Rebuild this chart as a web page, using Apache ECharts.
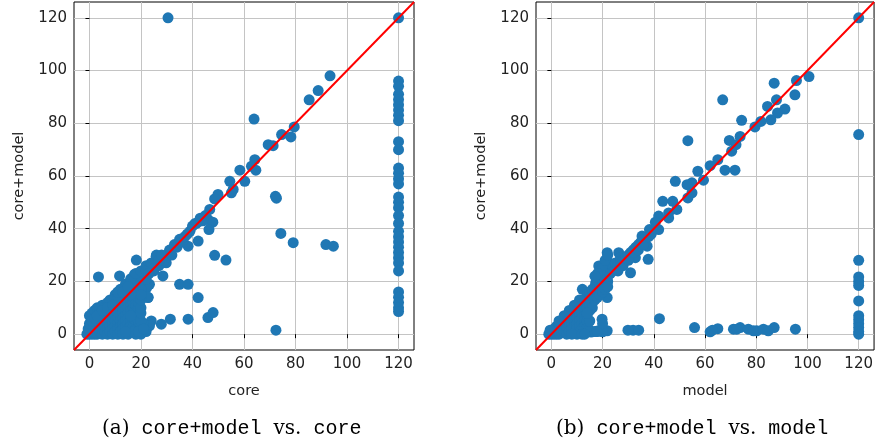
<!DOCTYPE html>
<html>
<head>
<meta charset="utf-8">
<script src="https://cdn.jsdelivr.net/npm/echarts@6/dist/echarts.min.js"></script>
<style>
  html, body { margin: 0; padding: 0; background: #fff; }
  #main { width: 876px; height: 446px; }
</style>
</head>
<body>
<div id="main"></div>
<script>
// panel (a): x = core, y = core+model
var coreVsCore = [
  [30.5,120],[120,120],[93.4,98],[88.8,92.4],[85.3,88.9],[63.9,81.6],[79.5,78.6],[78.2,74.8],[74.6,75.7],
  [71.3,71.5],[69.4,71.9],[64.2,66.2],[62.9,63.7],[64.6,62.2],[58.4,62.2],[60.3,58],[54.5,58],[55.8,54.9],
  [55.1,53.6],[49.9,53],[48.6,51.3],[46.7,47.3],[46,43.5],[47.9,42.5],[46.4,39.7],[42.8,42.9],[41.5,42],
  [42.2,35.3],[38.3,33.4],[35.7,35.9],[33.7,33.4],[31.1,31.9],[28.5,29.6],[25.9,29.6],[29.8,27.1],[28.5,22.1],
  [18.2,28.1],[11.7,22.1],[3.5,21.7],[17.5,22.7],[23.3,18.9],[35,18.9],[38.3,18.9],[42.2,13.9],[22.7,13.9],
  [48.6,29.9],[53,28.1],[72.2,52.3],[72.6,51.6],[74.3,38.2],[79.1,34.7],[91.8,34],[94.7,33.4],[72.4,1.5],
  [31.4,5.7],[38.3,5.7],[46,6.3],[48,8.2],[27.9,3.8],[24,5],[23.3,3.2],[22.2,17.6],[22.8,14],
  [20,20],[21,22],[22,21],[23,23],[24,25],[25,24],[26,27],[27,26],[28,29],[29,28],[30,30],[31,31],[32,30],
  [33,34],[34,33],[35,36],[36,35],[37,37],[38,38],[39,39],[40,41],[41,42],[43,44],[44,43],[45,45],
  [0,0],[0.5,1],[1,2],[1,0],[2,3],[2,1],[2,0],[3,4],[3,2],[3,0],[4,5],[4,3],[4,1],[5,6],[5,4],[5,2],[5,0],
  [6,7],[6,5],[6,3],[6,1],[7,8],[7,6],[7,4],[7,2],[7,0],[8,9],[8,7],[8,5],[8,3],[8,1],[9,10],[9,8],[9,6],
  [9,4],[9,2],[9,0],[10,11],[10,9],[10,7],[10,5],[10,3],[10,1],[11,12],[11,10],[11,8],[11,6],[11,4],[11,2],
  [11,0],[12,13],[12,11],[12,9],[12,7],[12,5],[12,3],[12,1],[13,14],[13,12],[13,10],[13,8],[13,6],[13,4],
  [13,2],[13,0],[14,15],[14,13],[14,11],[14,9],[14,7],[14,5],[14,3],[15,16],[15,14],[15,12],[15,10],[15,8],
  [15,6],[15,4],[15,2],[15,0],[16,16],[16,13],[16,11],[16,9],[16,5],[16,3],[16,1],[17,17],[17,14],[17,10],
  [17,6],[17,3],[18,18],[18,15],[18,9],[18,5],[18,2],[18,0],[19,19],[19,16],[19,3],[20,17],[20,2],[21,4],[22,1],
  [17,8],[17,12],[18,7],[18,11],[18,13],[19,5],[19,7],[19,10],[19,12],[19,14],[20,0],[20,5],[20,8],[20,10],
  [20,13],[20,15],[16,7],[16,15],[17,1],[19,1],[21,2],[14,1],[16,18],[17,19],[18,20],[19,22],[20,22],
  [-1,0],[-0.5,2],[0,7],[1,8],[2,9],[3,10],[5,11],[7,12],[8,13],[10,15],[12,17],[14,19],[16,21],[18,23],
  [20,24],[22,26],[22,24],[24,27],[26,30],[25,25],[23,23],[27,28],[28,30],[4,8],[6,10],[9,13],[11,14],[13,17],
  [0,4],[1,5],[2,6],[3,7],[5,9],[7,10],[9,11],[11,16],[13,16],[15,18],
  [120,96],[120,94],[120,91],[120,89],[120,87],[120,85],[120,83],[120,81],[120,73],[120,70],[120,63],[120,61],
  [120,59],[120,57],[120,52],[120,50],[120,48],[120,45],[120,42],[120,39],[120,37],[120,35],[120,33],[120,31],
  [120,29],[120,27],[120,24],[120,16],[120,14],[120,12],[120,10],[120,8.6]
];

// panel (b): x = model, y = core+model
var coreVsModel = [
  [120,120],[120,75.7],[100.6,97.7],[95.7,96.2],[95.1,90.8],[87,95.2],[87.9,88.9],[84.4,86.4],[91.2,85.4],
  [88.3,83.9],[85.7,81.3],[79.5,78.6],[81.8,80.7],[66.9,88.9],[74.3,81.1],[73.7,75],[69.5,73.5],[72.1,71.9],
  [70.4,69.4],[53.3,73.4],[65,66.2],[62,63.9],[59.4,58.4],[57.2,61.8],[67.8,62.2],[71.7,62.2],[54.9,57.4],
  [53,56.7],[53.3,51.7],[54.9,53.6],[48.4,58],[43.5,50.4],[47.4,50.4],[49,47.3],[45.8,46],[41.9,44.8],
  [40.6,42.5],[41.9,39.7],[45.8,44.1],[38.3,39.7],[35.4,37.2],[37.4,33.4],[37.8,28.4],[32.8,29],[30.2,28.4],
  [30.9,23.3],[26.3,30.9],[21.8,30.9],[22.4,27.1],[21.1,23.6],[18.5,25.9],[21.8,13.9],[17.3,19.5],[12.1,17],
  [19.8,5.7],[21.8,1.3],[42.2,5.9],[31.9,1.5],[34.1,1.5],[29.9,1.5],[55.9,2.5],[62,0.9],[65,2.1],[62.9,1.5],
  [71.1,1.9],[73.7,2.5],[76.9,1.9],[80.2,1.3],[82.8,1.9],[84.7,1.3],[87,2.5],[95.3,1.9],[78.9,1.3],[72.4,1.9],
  [13.4,1.3],[15.5,0.8],[18,1.2],[20,0.9],
  [0,0],[0,1],[1,1],[1,2],[1,0],[2,2],[2,3],[2,1],[2,0],[3,3],[3,4],[3,2],[3,0],[4,4],[4,5],[4,2],[4,1],
  [5,5],[5,6],[5,3],[5,1],[6,6],[6,7],[6,4],[6,2],[6,0],[7,7],[7,8],[7,5],[7,3],[7,1],[8,8],[8,9],[8,6],
  [8,4],[8,2],[9,9],[9,10],[9,7],[9,5],[9,3],[9,1],[10,10],[10,11],[10,8],[10,6],[10,4],[10,2],[11,11],
  [11,12],[11,9],[11,7],[11,5],[11,3],[12,12],[12,13],[12,10],[12,8],[12,6],[12,4],[12,1],[13,13],[13,11],
  [13,9],[13,7],[13,5],[14,14],[14,15],[14,12],[14,10],[14,1],[15,15],[15,16],[15,13],[15,1],[16,16],[16,17],
  [16,14],[16,1],[17,17],[17,18],[17,15],[17,1],[18,18],[18,20],[18,16],[18,1],[19,19],[19,21],[19,17],
  [20,20],[20,22],[20,18],[20,4],[21,21],[21,23],[21,19],[22,22],[22,24],[22,20],[23,23],[23,25],[24,24],
  [24,26],[25,25],[25,27],[26,26],[27,27],[27,29],[28,28],[29,29],[30,30],[31,31],[32,32],[33,33],[34,34],
  [35,35],[36,36],[19,24],[20,26],[21,28],[22,30],[18,23],[17,22],[-1,0],[-0.5,1.5],[26,24],[28,26],
  [30,28],[32,31],[34,32],[36,34],[38,37],[39,38],
  [12,2],[13,3],[13,1],[14,3],[14,5],[14,7],[15,5],[15,9],[16,12],[11,1],[10,0],[8,0],[12,0],[13,0],
  [15,11],[16,10],[17,13],[18,14],[19,15],[20,16],[21,17],[14,8],[22,18],[11,13],[9,11],[7,9],[5,7],[3,5],
  [120,28],[120,21.7],[120,20],[120,18.5],[120,12.6],[120,7],[120,5.5],[120,4],[120,2.5],[120,1],[120,0]
];

var tickLabels = [0, 20, 40, 60, 80, 100, 120];
var diagonal = [[-6, -6], [126, 126]];

var blue = '#1f77b4';
var sans = 'DejaVu Sans';

function makeAxis(idx, name, isX) {
  return {
    type: 'value',
    gridIndex: idx,
    min: -6,
    max: 126,
    name: name,
    nameLocation: 'middle',
    nameGap: isX ? 34 : 47,
    nameTextStyle: { fontFamily: sans, fontSize: 14.5, color: '#222' },
    axisLine: { show: false },
    axisTick: { show: true, inside: false, length: 4, lineStyle: { color: '#000' }, customValues: tickLabels },
    axisLabel: { fontFamily: sans, fontSize: 15, color: '#222', margin: 7, customValues: tickLabels },
    splitLine: { show: true, lineStyle: { color: '#c4c4c4', width: 1 }, customValues: tickLabels }
  };
}

var captionRich = {
  s: { fontFamily: 'DejaVu Serif', fontSize: 20, fill: '#000' },
  m: { fontFamily: 'Liberation Mono', fontSize: 20, fill: '#000' }
};

var chart = echarts.init(document.getElementById('main'));
chart.setOption({
  animation: false,
  grid: [
    { left: 74, top: 2, width: 340, height: 348, show: true, borderColor: '#000', borderWidth: 1, backgroundColor: 'transparent' },
    { left: 536, top: 2, width: 339, height: 348, show: true, borderColor: '#000', borderWidth: 1, backgroundColor: 'transparent' }
  ],
  xAxis: [makeAxis(0, 'core', true), makeAxis(1, 'model', true)],
  yAxis: [makeAxis(0, 'core+model', false), makeAxis(1, 'core+model', false)],
  series: [
    { type: 'scatter', xAxisIndex: 0, yAxisIndex: 0, data: coreVsCore, symbolSize: 11,
      itemStyle: { color: blue, opacity: 1 } },
    { type: 'line', xAxisIndex: 0, yAxisIndex: 0, data: diagonal, showSymbol: false, symbol: 'none',
      lineStyle: { color: '#ff0000', width: 2 }, z: 5 },
    { type: 'scatter', xAxisIndex: 1, yAxisIndex: 1, data: coreVsModel, symbolSize: 11,
      itemStyle: { color: blue, opacity: 1 } },
    { type: 'line', xAxisIndex: 1, yAxisIndex: 1, data: diagonal, showSymbol: false, symbol: 'none',
      lineStyle: { color: '#ff0000', width: 2 }, z: 5 }
  ],
  graphic: [
    { type: 'text', left: 102, top: 419,
      style: { text: '{s|(a)}{m| core+model }{s|vs.}{m| core}', rich: captionRich } },
    { type: 'text', left: 556, top: 419,
      style: { text: '{s|(b)}{m| core+model }{s|vs.}{m| model}', rich: captionRich } }
  ]
});
</script>
</body>
</html>
